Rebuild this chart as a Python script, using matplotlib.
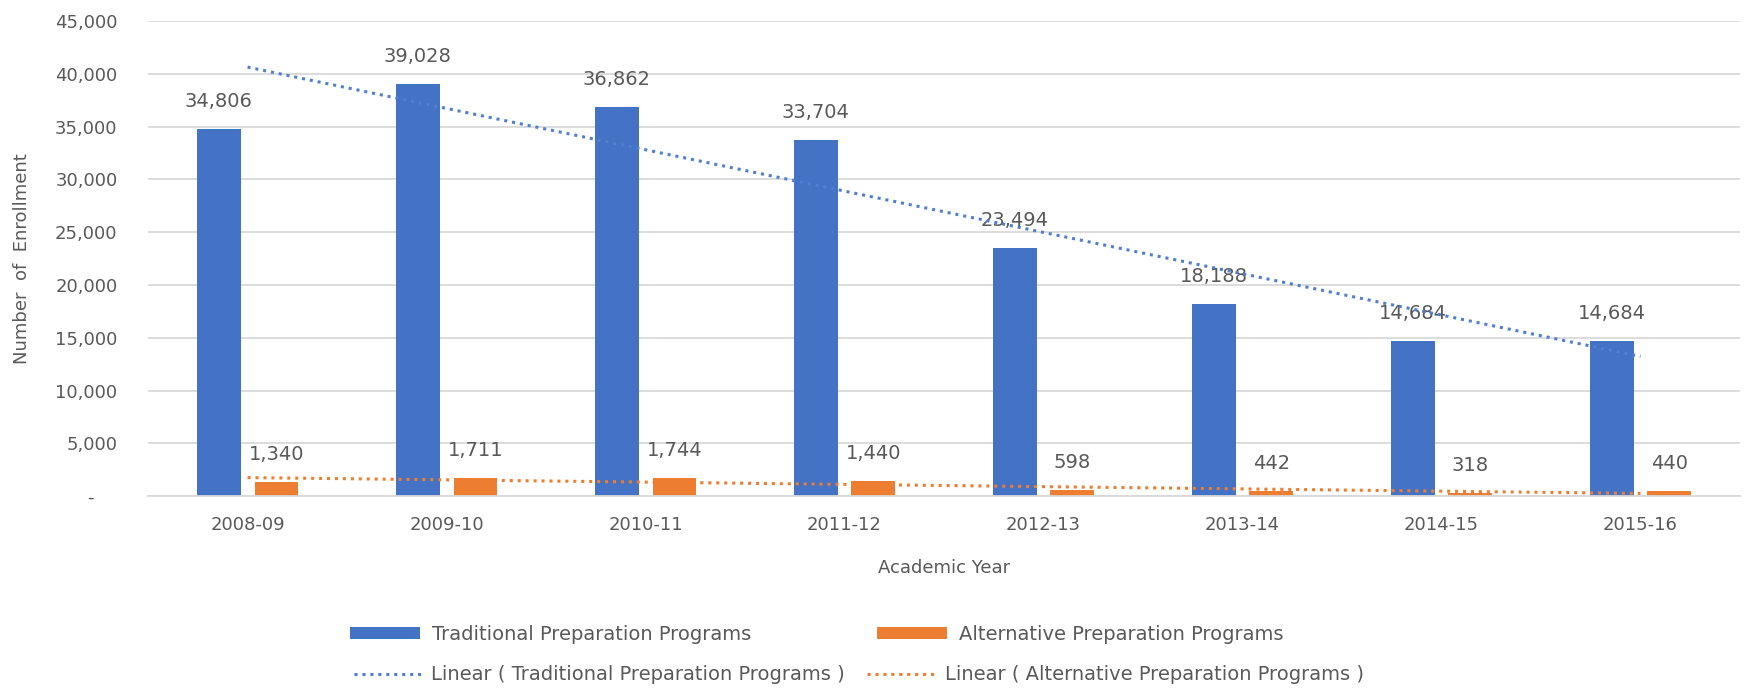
import numpy as np
import matplotlib
matplotlib.use('Agg')
from matplotlib import pyplot as plt
from matplotlib.ticker import FuncFormatter

# Enrollment by academic year
years = ['2008-09', '2009-10', '2010-11', '2011-12',
         '2012-13', '2013-14', '2014-15', '2015-16']
traditional = [34806, 39028, 36862, 33704, 23494, 18188, 14684, 14684]
alternative = [1340, 1711, 1744, 1440, 598, 442, 318, 440]

BLUE = '#4472C4'
ORANGE = '#ED7D31'
GREY = '#595959'

plt.rcParams['font.family'] = ['DejaVu Sans']

fig = plt.figure(figsize=(17.44, 6.9), dpi=100)
ax = fig.add_axes([0.0849, 0.281, 0.9128, 0.6886])

x = np.arange(len(years))
w = 0.22
off = 0.145

b1 = ax.bar(x - off, traditional, w, color=BLUE, zorder=2)
b2 = ax.bar(x + off, alternative, w, color=ORANGE, zorder=2)

# data labels
for xi, v in zip(x - off, traditional):
    ax.annotate(f'{v:,}', (xi, v), xytext=(0, 13), textcoords='offset points',
                ha='center', va='bottom', fontsize=14, color=GREY, zorder=3)
for xi, v in zip(x + off, alternative):
    ax.annotate(f'{v:,}', (xi, v), xytext=(0, 13), textcoords='offset points',
                ha='center', va='bottom', fontsize=14, color=GREY, zorder=3)

# linear trend lines (Excel style, x = 1..n)
xs = np.arange(1, len(years) + 1)
trend = []
for vals, col in [(traditional, '#4F7FD0'), (alternative, ORANGE)]:
    k, b = np.polyfit(xs, vals, 1)
    ln, = ax.plot(x, k * xs + b, color=col, lw=2.2, ls=(0, (1, 1.6)), zorder=4)
    trend.append(ln)

ax.set_xlim(-0.5, len(years) - 0.5)
ax.set_ylim(0, 45000)
ax.set_yticks(np.arange(0, 45001, 5000))
ax.yaxis.set_major_formatter(FuncFormatter(lambda v, p: '-    ' if v == 0 else f'{v:,.0f}'))
ax.set_xticks(x)
ax.set_xticklabels(years)
ax.tick_params(axis='both', length=0, labelsize=13, labelcolor=GREY)
ax.tick_params(axis='x', pad=14)
ax.tick_params(axis='y', pad=22)

ax.grid(axis='y', color='#D9D9D9', lw=1.3, zorder=0)
for s in ['top', 'right', 'left']:
    ax.spines[s].set_visible(False)
ax.spines['bottom'].set_color('#D9D9D9')
ax.spines['bottom'].set_linewidth(1.3)

ax.set_xlabel('Academic Year', fontsize=13, color=GREY, labelpad=18)
ax.set_ylabel('Number  of  Enrollment', fontsize=13, color=GREY, labelpad=17)

# legend: two rows, laid out like Excel
leg1 = fig.legend([b1, b2], ['Traditional Preparation Programs', 'Alternative Preparation Programs'],
                  ncol=2, loc='center left', bbox_to_anchor=(0.2007, 0.081),
                  frameon=False, fontsize=14, handlelength=3.6, handleheight=0.6,
                  columnspacing=6.5, handletextpad=0.6, borderpad=0, borderaxespad=0)
leg2 = fig.legend(trend, ['Linear ( Traditional Preparation Programs )',
                          'Linear ( Alternative Preparation Programs )'],
                  ncol=2, loc='center left', bbox_to_anchor=(0.2027, 0.022),
                  frameon=False, fontsize=14, handlelength=3.6,
                  columnspacing=1.15, handletextpad=0.4, borderpad=0, borderaxespad=0)
for lg in (leg1, leg2):
    for t in lg.get_texts():
        t.set_color(GREY)

fig.savefig('out.png', dpi=100)
